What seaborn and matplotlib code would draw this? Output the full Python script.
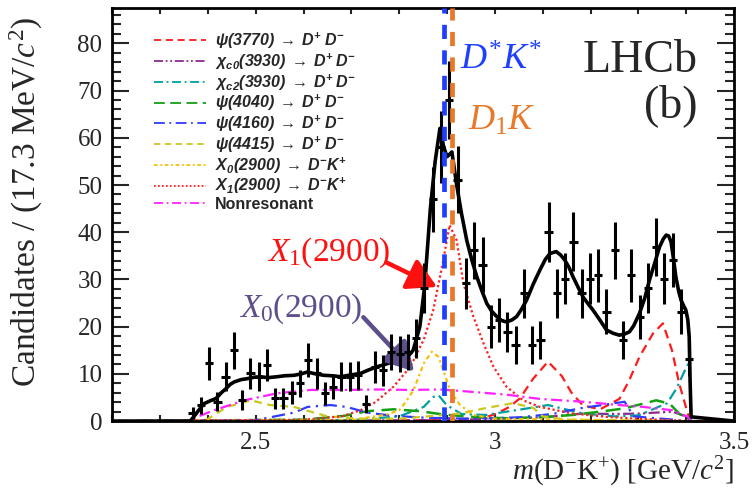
import numpy as np
import matplotlib
matplotlib.use("Agg")
import matplotlib.pyplot as plt
from matplotlib.ticker import FixedLocator, MultipleLocator, FuncFormatter
from matplotlib.lines import Line2D
import seaborn as sns

# ---------------- data ----------------
# D-K+ invariant mass bins (GeV/c^2), 17.3 MeV wide
bin_centers = [2.368, 2.385, 2.402, 2.420, 2.437, 2.454, 2.472, 2.489, 2.506, 2.524,
               2.541, 2.558, 2.576, 2.593, 2.610, 2.628, 2.645, 2.662, 2.679, 2.697,
               2.714, 2.731, 2.749, 2.766, 2.783, 2.801, 2.818, 2.835, 2.852, 2.870,
               2.887, 2.904, 2.922, 2.939, 2.956, 2.974, 2.991, 3.008, 3.026, 3.043,
               3.060, 3.077, 3.095, 3.112, 3.129, 3.147, 3.164, 3.181, 3.199, 3.216,
               3.233, 3.251, 3.268, 3.285, 3.303, 3.320, 3.337, 3.354, 3.372, 3.389,
               3.406]
counts = [1.7, 3.4, 12.2, 4.1, 9.4, 15.0, 4.4, 10.1, 9.4, 11.9,
          4.8, 4.8, 6.0, 8.0, 12.9, 10.1, 5.9, 7.3, 9.4, 9.4,
          9.7, 3.7, 11.5, 10.8, 14.7, 14.3, 14.7, 17.5, 28.1, 47.0,
          58.0, 68.0, 51.1, 29.2, 36.2, 33.1, 20.0, 21.4, 18.9, 16.1,
          27.1, 16.1, 17.2, 40.1, 27.1, 30.2, 38.0, 27.1, 30.2, 30.9,
          23.2, 36.2, 17.2, 30.9, 22.1, 28.1, 36.9, 30.2, 34.1, 23.2,
          13.1]
count_err = [1.3, 1.8, 3.5, 2.0, 3.1, 3.9, 2.1, 3.2, 3.1, 3.4,
             2.2, 2.2, 2.4, 2.8, 3.6, 3.2, 2.4, 2.7, 3.1, 3.1,
             3.1, 1.9, 3.4, 3.3, 3.8, 3.8, 3.8, 4.2, 5.3, 6.9,
             7.6, 8.2, 7.1, 5.4, 6.0, 5.8, 4.5, 4.6, 4.3, 4.0,
             5.2, 4.0, 4.1, 6.3, 5.2, 5.5, 6.2, 5.2, 5.5, 5.6,
             4.8, 6.0, 4.1, 5.6, 4.7, 5.3, 6.1, 5.5, 5.8, 4.8,
             3.6]
half_bin = 0.00865

# total fit
fit_m = [2.2, 2.363, 2.368, 2.38, 2.392, 2.405, 2.417, 2.428, 2.438, 2.447, 2.455, 2.47,
         2.483, 2.497, 2.51, 2.525, 2.545, 2.56, 2.58, 2.595, 2.608, 2.625, 2.642,
         2.66, 2.677, 2.7, 2.719, 2.735, 2.753, 2.77, 2.788, 2.805, 2.815, 2.829,
         2.843, 2.853, 2.865, 2.875, 2.885, 2.893, 2.9, 2.91, 2.92, 2.93, 2.941,
         2.952, 2.962, 2.973, 2.983, 2.993, 3.004, 3.014, 3.024, 3.035, 3.045,
         3.055, 3.066, 3.08, 3.094, 3.105, 3.115, 3.128, 3.137, 3.146, 3.155,
         3.163, 3.174, 3.184, 3.195, 3.205, 3.22, 3.233, 3.247, 3.26, 3.27, 3.281,
         3.29, 3.302, 3.313, 3.323, 3.334, 3.344, 3.352, 3.358, 3.363, 3.368,
         3.373, 3.378, 3.384, 3.389, 3.395, 3.399, 3.403, 3.406, 3.408, 3.41, 3.5]
fit_v = [0, 0, 0.6, 2.2, 3.7, 4.3, 4.8, 6.0, 6.9, 7.8, 8.3, 8.8,
         9.0, 9.3, 9.4, 9.2, 9.4, 9.6, 9.7, 10.0, 10.4, 10.0, 9.7,
         9.6, 9.4, 9.8, 10.1, 10.8, 11.5, 12.0, 12.6, 13.0, 13.3, 15.0,
         20.0, 28.5, 45.0, 55.0, 62.0, 58.0, 56.0, 57.0, 50.0, 44.0, 38.3,
         34.0, 30.6, 27.5, 24.9, 23.3, 22.1, 21.3, 21.0, 21.4, 22.1,
         23.6, 25.6, 29.0, 32.0, 34.2, 35.5, 35.9, 35.2, 34.1, 32.5,
         30.6, 28.3, 26.3, 24.8, 23.5, 21.3, 19.3, 18.6, 18.2, 18.4, 18.9,
         20.2, 22.8, 26.0, 29.9, 33.5, 36.9, 38.6, 39.4, 39.2, 38.0,
         34.5, 30.6, 27.5, 25.6, 24.3, 23.5, 21.5, 17.9, 8.0, 0.9, 0]

# fit components
psi3770_m = [2.2, 2.9, 2.98, 3.004, 3.03, 3.052, 3.08, 3.111, 3.14, 3.16, 3.184, 3.22,
             3.26, 3.28, 3.302, 3.33, 3.351, 3.37, 3.385, 3.403, 3.41, 3.5]
psi3770_v = [0, 0.2, 0.8, 1.6, 3.0, 4.8, 9.0, 12.6, 9.5, 6.0, 3.3, 2.5,
             4.7, 8.5, 13.6, 18.5, 20.7, 15.0, 8.0, 1.6, 0, 0]
chic0_m = [2.2, 2.9, 3.0, 3.1, 3.184, 3.25, 3.302, 3.371, 3.399, 3.41, 3.5]
chic0_v = [0, 0.2, 0.5, 0.8, 1.6, 1.5, 1.6, 2.0, 1.0, 0, 0]
chic2_m = [2.2, 2.7, 2.75, 2.8, 2.851, 2.871, 2.882, 2.899, 2.93, 2.98, 3.056, 3.111,
           3.184, 3.25, 3.3, 3.33, 3.36, 3.38, 3.399, 3.406, 3.41, 3.5]
chic2_v = [0, 0.2, 0.6, 1.0, 3.0, 5.1, 5.5, 3.4, 1.5, 1.3, 2.5, 3.4,
           1.6, 1.0, 1.2, 2.5, 3.8, 7.0, 11.2, 12.5, 0, 0]
psi4040_m = [2.2, 2.6, 2.684, 2.733, 2.788, 2.843, 2.892, 2.95, 3.024, 3.094, 3.163,
             3.22, 3.271, 3.337, 3.365, 3.385, 3.41, 3.5]
psi4040_v = [0, 0.3, 1.1, 2.1, 2.5, 2.1, 1.4, 0.9, 0.6, 0.8, 1.3,
             2.0, 2.7, 4.4, 3.7, 1.6, 0, 0]
psi4160_m = [2.2, 2.5, 2.545, 2.58, 2.608, 2.656, 2.69, 2.733, 2.788, 2.858, 2.95,
             3.05, 3.12, 3.177, 3.271, 3.29, 3.35, 3.41, 3.5]
psi4160_v = [0, 0.2, 1.1, 1.8, 3.0, 3.4, 3.0, 1.8, 1.1, 0.7, 0.5,
             0.8, 1.5, 2.7, 4.1, 1.0, 0.5, 0, 0]
psi4415_m = [2.2, 2.37, 2.399, 2.44, 2.49, 2.53, 2.58, 2.615, 2.65, 2.72, 2.8, 2.86,
             2.927, 2.983, 3.038, 3.08, 3.1, 3.15, 3.41, 3.5]
psi4415_v = [0, 0, 0.4, 3.0, 4.4, 3.4, 3.0, 2.0, 1.0, 0.5, 0.5, 1.0,
             1.6, 2.8, 3.8, 2.8, 1.0, 0.3, 0, 0]
x0_m = [2.2, 2.7, 2.774, 2.8, 2.816, 2.83, 2.851, 2.868, 2.882, 2.892, 2.906, 2.927,
        2.955, 3.0, 3.41, 3.5]
x0_v = [0, 0.2, 1.4, 2.3, 4.4, 6.6, 12.2, 14.7, 13.6, 10.8, 6.6, 3.4,
        1.3, 0.5, 0, 0]
x1_m = [2.2, 2.6, 2.68, 2.719, 2.75, 2.788, 2.823, 2.851, 2.871, 2.892, 2.905, 2.92,
        2.934, 2.955, 2.976, 2.997, 3.024, 3.059, 3.094, 3.163, 3.233, 3.3, 3.41, 3.5]
x1_v = [0, 0.3, 1.0, 2.3, 4.0, 7.3, 11.5, 17.2, 23.5, 34.0, 41.5, 38.3,
        29.2, 22.1, 16.5, 11.5, 7.3, 4.4, 3.0, 1.6, 0.9, 0.5, 0, 0]
nonres_m = [2.2, 2.363, 2.368, 2.413, 2.476, 2.545, 2.615, 2.684, 2.753, 2.823, 2.885,
            2.927, 3.024, 3.094, 3.184, 3.26, 3.31, 3.371, 3.406, 3.41, 3.5]
nonres_v = [0, 0, 0.5, 2.3, 4.4, 5.9, 6.6, 6.6, 6.7, 6.6, 6.7,
            6.4, 5.6, 4.7, 4.1, 3.4, 3.0, 2.3, 0.8, 0, 0]

component_labels = [
    r"$\mathbf{\psi(3770)\ \rightarrow\ D^{+}\ D^{-}}$",
    r"$\mathbf{\chi_{c0}(3930)\ \rightarrow\ D^{+}\ D^{-}}$",
    r"$\mathbf{\chi_{c2}(3930)\ \rightarrow\ D^{+}\ D^{-}}$",
    r"$\mathbf{\psi(4040)\ \rightarrow\ D^{+}\ D^{-}}$",
    r"$\mathbf{\psi(4160)\ \rightarrow\ D^{+}\ D^{-}}$",
    r"$\mathbf{\psi(4415)\ \rightarrow\ D^{+}\ D^{-}}$",
    r"$\mathbf{X_{0}(2900)\ \rightarrow\ D^{-}K^{+}}$",
    r"$\mathbf{X_{1}(2900)\ \rightarrow\ D^{-}K^{+}}$",
    "Nonresonant",
]

# threshold positions (GeV/c^2)
dstar_kstar = 2.894
d1_k = 2.910

# ---------------- style ----------------
sns.set_theme(style="ticks")
plt.rcParams.update({
    "font.family": "serif",
    "font.serif": ["Liberation Serif", "DejaVu Serif"],
    "mathtext.fontset": "custom",
    "mathtext.rm": "Liberation Serif",
    "mathtext.it": "Liberation Serif:italic",
    "mathtext.bf": "Liberation Sans:bold:italic",
    "mathtext.sf": "Liberation Sans",
    "axes.linewidth": 2.0,
    "axes.edgecolor": "black",
})
SERIF = "Liberation Serif"

fig = plt.figure(figsize=(7.53, 4.96), dpi=100)
ax = fig.add_axes([0.149, 0.151, 0.826, 0.833])

components = [
    (psi3770_m, psi3770_v, "#ff1a1a", (0, (4, 2.5)), 1.6),
    (chic0_m, chic0_v, "#8b2b8b", (0, (5, 1.5, 1, 1.5, 1, 1.5)), 1.6),
    (chic2_m, chic2_v, "#00a0a0", (0, (5, 2, 1, 2)), 1.6),
    (psi4040_m, psi4040_v, "#13a013", (0, (6, 3)), 1.8),
    (psi4160_m, psi4160_v, "#2f3cff", (0, (6, 2.5, 1, 2.5)), 1.6),
    (psi4415_m, psi4415_v, "#c8c81e", (0, (3.5, 2.5)), 1.6),
    (x0_m, x0_v, "#f5c000", (0, (2, 1.5, 1, 1.5)), 1.6),
    (x1_m, x1_v, "#ff2020", (0, (1, 1.2)), 1.6),
    (nonres_m, nonres_v, "#ff22ff", (0, (5, 2, 1, 2)), 1.6),
]

handles = []
for (mm, vv, col, ls, lw), lab in zip(components, component_labels):
    sns.lineplot(x=mm, y=vv, ax=ax, color=col, linestyle=ls, linewidth=lw,
                 estimator=None, sort=False, clip_on=False)
    handles.append(Line2D([], [], color=col, linestyle=ls, linewidth=1.3))

# total fit
sns.lineplot(x=fit_m, y=fit_v, ax=ax, color="black", linewidth=2.6,
             estimator=None, sort=False)

# data points
ax.errorbar(bin_centers, counts, yerr=count_err, xerr=half_bin, fmt="none",
            ecolor="black", elinewidth=2.2, capsize=0, zorder=5)

# thresholds
ax.axvline(dstar_kstar, color="#1f3fff", linewidth=3.4, linestyle=(0, (3.0, 2.4)), zorder=6)
ax.axvline(d1_k, color="#e8782a", linewidth=3.4, linestyle=(1.5, (3.0, 2.4)), zorder=6)

ax.set_xlim(2.2, 3.5)
ax.set_ylim(0, 87.5)

# axes ticks
ax.xaxis.set_major_locator(FixedLocator(np.arange(2.2, 3.51, 0.1)))
ax.xaxis.set_major_formatter(FuncFormatter(
    lambda v, p: {25: "2.5", 30: "3", 35: "3.5"}.get(int(round(v * 10)), "")))
ax.yaxis.set_major_locator(MultipleLocator(10))
ax.yaxis.set_minor_locator(MultipleLocator(2))
ax.tick_params(axis="x", which="major", direction="in", top=True, bottom=True,
               length=4.5, width=1.5, labelsize=18, pad=8)
ax.tick_params(axis="y", which="major", direction="in", left=True, right=True,
               length=12, width=1.5, labelsize=18, pad=7)
ax.tick_params(axis="y", which="minor", direction="in", left=True, right=True,
               length=6.5, width=1.5)
for t in ax.get_xticklabels() + ax.get_yticklabels():
    t.set_fontfamily(SERIF)

ax.set_ylabel("Candidates / (17.3 MeV/$c^2$)", fontsize=24, fontfamily=SERIF)
ax.yaxis.set_label_coords(-0.108, 0.53)
ax.set_xlabel(r"$m(\mathrm{D}^{-}\mathrm{K}^{+})$ [GeV/$c^{2}$]", fontsize=21,
              fontfamily=SERIF, ha="right", va="center")
ax.xaxis.set_label_coords(1.0, -0.122)

# legend
leg = ax.legend(handles, component_labels, loc="upper left",
                bbox_to_anchor=(0.068, 0.945), frameon=False,
                prop={"family": "Liberation Sans", "weight": "bold", "size": 11.5},
                handlelength=3.2, handletextpad=0.6, labelspacing=0.03,
                borderpad=0.0, borderaxespad=0.0)

# labels and annotations
ax.text(3.423, 73.9, "LHCb", fontsize=33, ha="right", va="baseline", fontfamily=SERIF)
ax.text(3.423, 64.4, "(b)", fontsize=33, ha="right", va="baseline", fontfamily=SERIF)
ax.text(2.927, 74.4, r"$D^{*}K^{*}$", fontsize=26, color="#1f3fff", va="baseline")
ax.text(2.944, 61.7, r"$D_{\mathrm{1}}K$", fontsize=26, color="#e8782a", va="baseline")

arrow_style = "-|>,head_length=0.8,head_width=0.45"
ax.text(2.781, 35.7, r"$X_{\mathrm{1}}\mathrm{(2900)}$", fontsize=24, color="#ff1010",
        ha="right", va="center")
ax.annotate("", xy=(2.879, 28.4), xytext=(2.773, 33.6),
            arrowprops=dict(arrowstyle=arrow_style, color="#ff1010", lw=3.2,
                            shrinkA=0, shrinkB=0, mutation_scale=22))
ax.text(2.723, 23.8, r"$X_{\mathrm{0}}\mathrm{(2900)}$", fontsize=24, color="#5e4e8c",
        ha="right", va="center")
ax.annotate("", xy=(2.831, 10.5), xytext=(2.725, 22.0),
            arrowprops=dict(arrowstyle=arrow_style, color="#5e4e8c", lw=3.2,
                            shrinkA=0, shrinkB=0, mutation_scale=22))

fig.savefig("out.png", dpi=100)
